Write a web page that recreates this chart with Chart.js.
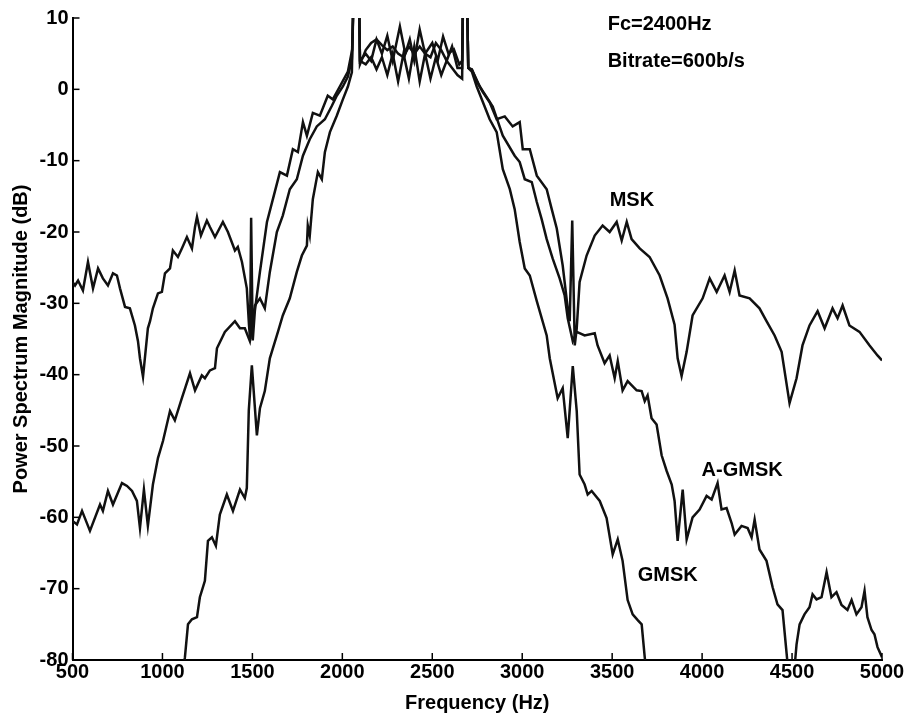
<!DOCTYPE html>
<html>
<head>
<meta charset="utf-8">
<script src="https://cdn.jsdelivr.net/npm/chart.js@4"></script>
<style>
  html, body { margin: 0; padding: 0; background: #fff; }
  canvas { display: block; }
</style>
</head>
<body>
<canvas id="psd" width="911" height="721"></canvas>
<script>
// Spectres MSK / A-GMSK / GMSK

const xTicks = [500, 1000, 1500, 2000, 2500, 3000, 3500, 4000, 4500, 5000];
const yTicks = [10, 0, -10, -20, -30, -40, -50, -60, -70, -80];

const mskFreq = [500,514,531,558,586,614,642,669,697,725,747,764,792,819,847,864,875,892,905,919,931,947,975,997,1014,1042,1058,1086,1108,1136,1164,1181,1192,1214,1247,1264,1292,1336,1364,1403,1419,1442,1469,1481,1487,1493,1502,1514,1542,1581,1614,1653,1692,1725,1753,1781,1803,1836,1875,1919,1947,1986,2031,2055,2064,2092,2098,2130,2160,2190,2220,2250,2280,2320,2350,2375,2400,2430,2460,2500,2530,2560,2590,2620,2650,2666,2672,2692,2700,2720,2750,2781,2819,2858,2903,2947,2986,3003,3042,3081,3136,3164,3192,3225,3253,3264,3278,3292,3303,3319,3358,3403,3447,3486,3525,3553,3581,3608,3653,3708,3764,3808,3847,3864,3886,3914,3947,4003,4042,4081,4125,4153,4181,4208,4264,4319,4358,4403,4442,4486,4525,4558,4597,4642,4681,4725,4753,4781,4819,4875,4931,4975,5000];
const mskDb = [-27,-27.5,-26.8,-28.2,-24.2,-27.9,-25.1,-26.5,-27.5,-25.8,-26.1,-27.9,-30.5,-30.7,-33.1,-35.3,-37.7,-40.3,-37,-33.5,-32.5,-30.7,-28.6,-28.4,-25.8,-25.1,-22.6,-23.5,-22.3,-20.7,-22.3,-19.3,-17.9,-20.5,-18.4,-19.3,-20.7,-18.6,-20,-22.6,-22.1,-24.2,-27.9,-33,-35,-18,-35.2,-31,-25.6,-18.6,-15.4,-11.6,-12.1,-8.4,-8.8,-4.6,-6.5,-3.3,-3.7,-0.9,-1.4,0.4,2.5,5.6,15,15,4,5,4,7,5,7.5,4,8.8,5,7,4,8.4,5,6.5,4,7.4,5,5.6,3.5,4,15,15,3,2.8,1,-0.4,-1.8,-4.2,-3.8,-5.2,-4.6,-8.4,-8.4,-12.1,-14,-16.8,-19.5,-24.7,-30.7,-32.5,-18.4,-35.9,-33.5,-27,-23.3,-20.5,-19.1,-20,-18.6,-21.2,-18.6,-21,-22.3,-23.5,-26.1,-29.3,-33,-37.7,-40.2,-36.8,-31.7,-29.3,-26.5,-28.4,-26.1,-28.4,-25.4,-28.9,-29.3,-30.7,-32.5,-34.5,-36.8,-44,-40.5,-35.9,-33.1,-31.1,-33.5,-30.7,-32.1,-30.3,-33.1,-34,-35.9,-37.3,-38];

const agmskFreq = [500,525,553,597,653,669,697,725,775,803,831,858,875,897,919,947,975,1003,1042,1069,1108,1153,1181,1219,1236,1264,1292,1303,1347,1403,1431,1458,1486,1514,1542,1569,1597,1636,1669,1708,1747,1781,1819,1858,1903,1942,1969,2003,2031,2053,2064,2092,2098,2130,2160,2190,2220,2250,2280,2310,2340,2370,2400,2430,2460,2490,2520,2550,2580,2610,2640,2666,2672,2692,2700,2720,2764,2836,2892,2958,2986,3014,3053,3081,3108,3136,3169,3208,3236,3253,3281,3303,3347,3403,3419,3458,3486,3514,3531,3558,3586,3636,3664,3681,3697,3719,3747,3775,3803,3831,3847,3864,3892,3914,3947,3986,4025,4053,4086,4108,4136,4164,4181,4219,4253,4275,4292,4319,4358,4392,4419,4447,4475,4490,4500,4514,4525,4542,4569,4597,4614,4636,4664,4692,4719,4747,4775,4808,4831,4858,4886,4903,4919,4942,4958,4975,5000];
const agmskDb = [-60.5,-61,-59.1,-61.9,-58.2,-59.1,-56.3,-58.2,-55.2,-55.6,-56.3,-57.7,-61.5,-56.1,-61.2,-55.4,-51.7,-49.3,-45.1,-46.4,-43.3,-39.8,-42.2,-40.1,-40.5,-39.4,-39.1,-36.3,-34,-32.5,-33.5,-33.5,-35.3,-30.3,-29.3,-30.7,-25.6,-20,-17.7,-14,-12.6,-9.3,-7,-5.2,-4.2,-2.3,-0.9,0.4,1.8,4.2,15,15,3.5,5.5,6.5,7,6.2,5.5,6,5,4.5,6,5,6,5,4.5,6.5,5.5,4,6,3,3,15,15,3,2.8,0.4,-2.4,-6.5,-9.3,-10.2,-12.6,-13,-15.8,-18.2,-21,-23.7,-26.5,-28.9,-32.1,-35.3,-34,-34.5,-34.2,-35.9,-38.4,-37.3,-40.5,-38.1,-42.2,-40.9,-42.2,-42.3,-43.7,-42.9,-46.1,-47,-51.3,-53.5,-55.4,-57.7,-63.3,-56.1,-63.1,-60,-58.9,-57,-57.5,-55.2,-58.9,-58.7,-60.8,-62.4,-61.2,-61.5,-62.8,-60.3,-64.5,-66.1,-69.8,-72.2,-73,-80.5,-81,-80.3,-81,-77.8,-75,-73.6,-72.6,-70.8,-71.5,-71.2,-67.7,-71.2,-70.5,-72.3,-73,-71.6,-73.6,-72.6,-70.3,-74,-75.8,-76.4,-78.2,-79.6];

const gmskFreq = [1100,1125,1142,1164,1192,1208,1236,1253,1275,1297,1319,1358,1392,1431,1458,1469,1480,1497,1525,1542,1569,1597,1608,1642,1669,1708,1747,1775,1803,1808,1819,1836,1864,1886,1903,1931,1969,2003,2031,2053,2064,2092,2098,2130,2160,2190,2220,2250,2280,2310,2340,2370,2400,2430,2460,2490,2520,2550,2580,2610,2640,2666,2672,2692,2700,2720,2747,2819,2858,2892,2931,2958,2986,3014,3042,3081,3136,3153,3197,3225,3253,3281,3303,3319,3347,3364,3386,3431,3469,3503,3531,3558,3586,3614,3642,3664,3681,3700];
const gmskDb = [-84,-79.6,-75,-74.3,-74,-71.2,-68.9,-63.3,-62.8,-64,-59.6,-56.8,-59.1,-56.1,-57.3,-55.9,-45,-38.7,-48.5,-44.7,-42.3,-37.7,-36.8,-34,-31.7,-29.3,-25.6,-23.3,-21.9,-19.1,-20.5,-15.4,-11.6,-12.6,-8.8,-6,-3.7,-1.4,0.4,2.4,15,15,4,3.5,4.5,2.8,4.5,2,5,1.1,5,1.5,6,1.1,5,1.5,4.5,2,4,3,2,1.5,15,15,3,2.5,0.4,-4.2,-6,-11.2,-14,-16.8,-21.4,-25.1,-26.1,-29.7,-34.5,-37.7,-43.3,-41.9,-48.9,-38.8,-45.1,-54,-55.4,-56.8,-56.3,-57.7,-60.1,-65.2,-63.1,-66.1,-71.6,-73.6,-74.4,-75,-79.6,-84];

// Textes posés dans le repère des données (Hz, dB)
const notes = [
  { text: 'Fc=2400Hz',      x: 3475, y: 9.1 },
  { text: 'Bitrate=600b/s', x: 3475, y: 3.9 },
  { text: 'MSK',            x: 3486, y: -15.6 },
  { text: 'A-GMSK',         x: 3997, y: -53.4 },
  { text: 'GMSK',           x: 3642, y: -68.2 }
];

const FONT = "'Liberation Sans', Arial, Helvetica, sans-serif";
const TXT = { family: FONT, size: 20, weight: 'bold' };

const toPoints = (xs, ys) => xs.map((x, i) => ({ x, y: ys[i] }));

const lineStyle = {
  borderColor: '#111',
  borderWidth: 2.5,
  pointRadius: 0,
  tension: 0,
  fill: false,
  clip: 0
};

// Petits traits de graduation tournés vers l'intérieur + étiquettes
const inwardTicks = {
  id: 'inwardTicks',
  afterDatasetsDraw(chart) {
    const { ctx, chartArea, scales } = chart;
    ctx.save();
    ctx.strokeStyle = '#000';
    ctx.lineWidth = 1.5;
    xTicks.forEach(v => {
      const px = scales.x.getPixelForValue(v);
      ctx.beginPath();
      ctx.moveTo(px, chartArea.bottom);
      ctx.lineTo(px, chartArea.bottom - 7);
      ctx.stroke();
    });
    yTicks.forEach(v => {
      const py = scales.y.getPixelForValue(v);
      ctx.beginPath();
      ctx.moveTo(chartArea.left, py);
      ctx.lineTo(chartArea.left + 7, py);
      ctx.stroke();
    });

    ctx.fillStyle = '#000';
    ctx.font = 'bold 20px ' + FONT;
    ctx.textAlign = 'left';
    ctx.textBaseline = 'middle';
    notes.forEach(n => {
      ctx.fillText(n.text, scales.x.getPixelForValue(n.x), scales.y.getPixelForValue(n.y));
    });
    ctx.restore();
  }
};

new Chart(document.getElementById('psd'), {
  type: 'line',
  data: {
    datasets: [
      { label: 'MSK',    data: toPoints(mskFreq, mskDb),     ...lineStyle },
      { label: 'A-GMSK', data: toPoints(agmskFreq, agmskDb), ...lineStyle },
      { label: 'GMSK',   data: toPoints(gmskFreq, gmskDb),   ...lineStyle }
    ]
  },
  options: {
    responsive: false,
    animation: false,
    layout: { padding: { top: 18, right: 29, left: 0, bottom: 0 } },
    plugins: {
      legend: { display: false },
      tooltip: { enabled: false }
    },
    scales: {
      x: {
        type: 'linear',
        min: 500,
        max: 5000,
        afterFit: s => { s.height = 61; },
        afterBuildTicks: s => { s.ticks = xTicks.map(v => ({ value: v })); },
        grid: { display: false, drawTicks: false },
        border: { display: true, color: '#000', width: 2 },
        ticks: {
          color: '#000',
          padding: 0,
          maxRotation: 0,
          autoSkip: false,
          font: TXT,
          callback: v => String(v)
        },
        title: {
          display: true,
          text: 'Frequency (Hz)',
          color: '#000',
          padding: { top: 0, bottom: 6 },
          font: TXT
        }
      },
      y: {
        type: 'linear',
        min: -80,
        max: 10,
        afterFit: s => { s.width = 72.5; },
        afterBuildTicks: s => { s.ticks = yTicks.map(v => ({ value: v })); },
        grid: { display: false, drawTicks: false },
        border: { display: true, color: '#000', width: 2 },
        ticks: {
          color: '#000',
          padding: 4,
          autoSkip: false,
          font: TXT,
          callback: v => String(v)
        },
        title: {
          display: true,
          text: 'Power Spectrum Magnitude (dB)',
          color: '#000',
          padding: { top: 9, bottom: 0 },
          font: TXT
        }
      }
    }
  },
  plugins: [inwardTicks]
});
</script>
</body>
</html>
